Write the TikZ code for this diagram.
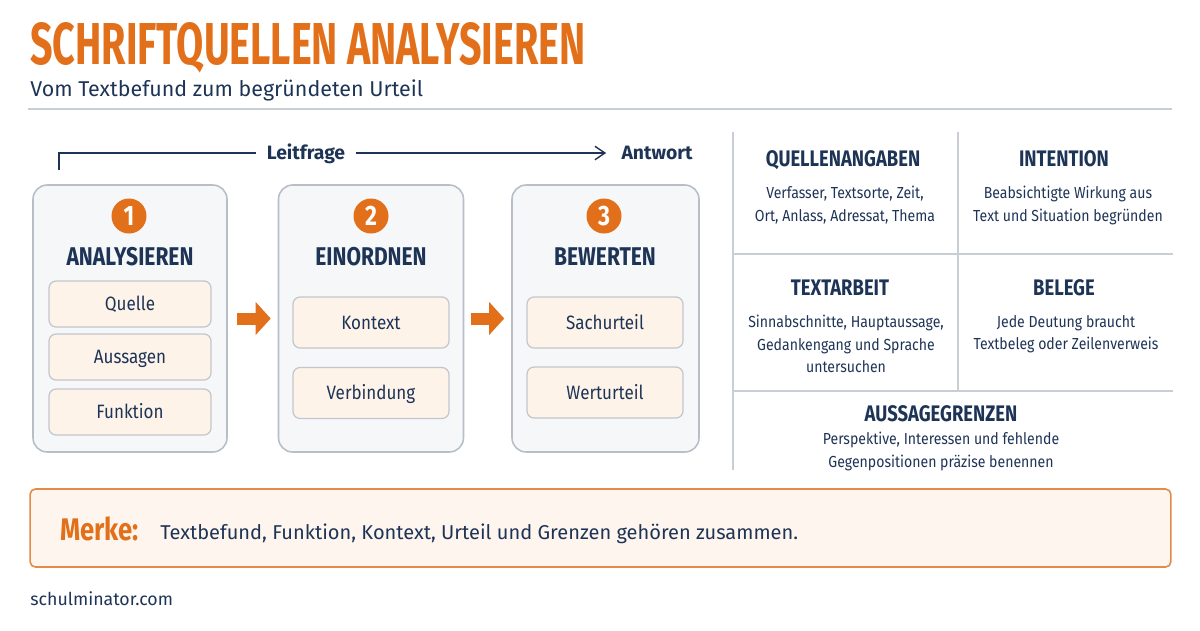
\documentclass[tikz,border=0pt]{standalone}
\usepackage{fontspec}
\setmainfont{Fira Sans}
\newfontfamily\condfont{Fira Sans}[FakeStretch=0.82]
\newfontfamily\narrowfont{Fira Sans}[FakeStretch=0.88]
\usepackage{graphicx}
\usepackage{tikz}
\usetikzlibrary{arrows.meta,positioning}
\definecolor{accent}{HTML}{E2701A}
\definecolor{navy}{HTML}{1E3456}
\definecolor{stagegray}{HTML}{B7BEC8}
\definecolor{stagefill}{HTML}{F6F7F9}
\definecolor{itemgray}{HTML}{C2C6CD}
\definecolor{peach}{HTML}{FDF3E9}
\definecolor{linegray}{HTML}{C9CED5}
\definecolor{notefill}{HTML}{FEF6EE}
\definecolor{noteline}{HTML}{E38B47}

\begin{document}
\begin{tikzpicture}[x=0.02cm, y=-0.02cm,
  every node/.style={text=navy, inner sep=0pt},
  stage/.style={draw=stagegray, fill=stagefill, line width=0.9pt, rounded corners=8pt, minimum height=5.34cm},
  item/.style={draw=itemgray, fill=peach, line width=0.7pt, rounded corners=4pt,
    font=\narrowfont\fontsize{11}{13}\selectfont, text height=7.6pt, text depth=0pt},
  num/.style={circle, fill=accent, text=white, minimum size=0.7cm,
    font=\condfont\bfseries\fontsize{16}{16}\selectfont},
  stagehead/.style={anchor=base, font=\condfont\bfseries\fontsize{14.6}{15}\selectfont},
  cellhead/.style={anchor=base, font=\condfont\bfseries\fontsize{12.8}{13}\selectfont},
  celltext/.style={anchor=north, align=center, font=\narrowfont\fontsize{9.1}{12.75}\selectfont},
  flowlabel/.style={font=\bfseries\fontsize{11}{12}\selectfont, text height=7.6pt, text depth=0pt},
  flow/.style={accent, line width=0.24cm, -{Triangle[length=0.3cm, width=0.64cm]}},
  cellline/.style={draw=linegray, line width=0.8pt}
]
\useasboundingbox (0,0) rectangle (1200,630);

% title
\node[anchor=base west, text=accent, text depth=0pt] (title) at (30,64)
  {\resizebox{11.1cm}{0.84cm}{\bfseries SCHRIFTQUELLEN ANALYSIEREN}};
\node[anchor=base west, font=\fontsize{12.2}{14}\selectfont] (subtitle) at (30,96)
  {Vom Textbefund zum begründeten Urteil};
\draw[draw=linegray, line width=1.1pt] (28,109) -- (1172,109);

% Leitfrage -> Antwort
\coordinate (lfstart) at (59,170);
\node[flowlabel, inner xsep=0.22cm] (leitfrage) at (306,153) {Leitfrage};
\node[flowlabel, inner xsep=0.3cm] (antwort) at (657,153) {Antwort};
\draw[navy, line width=0.8pt] (lfstart) |- (leitfrage.west);
\draw[navy, line width=0.8pt, -{Straight Barb[length=0.2cm, width=0.27cm]}] (leitfrage.east) -- (antwort.west);

% three steps
\node[stage, minimum width=3.88cm] (analysieren) at (130,318.5) {};
\node[stage, minimum width=3.7cm] (einordnen) at (371,318.5) {};
\node[stage, minimum width=3.74cm] (bewerten) at (605.5,318.5) {};

\node[num] (n1) at (129,216) {1};
\node[num] (n2) at (371,216) {2};
\node[num] (n3) at (604,216) {3};
\node[stagehead] (h1) at (130,265) {ANALYSIEREN};
\node[stagehead] (h2) at (371,265) {EINORDNEN};
\node[stagehead] (h3) at (605,265) {BEWERTEN};

\node[item, minimum width=3.24cm, minimum height=0.92cm] (quelle) at (130,304) {Quelle};
\node[item, minimum width=3.24cm, minimum height=0.92cm] (aussagen) at (130,357) {Aussagen};
\node[item, minimum width=3.24cm, minimum height=0.92cm] (funktion) at (130,412) {Funktion};
\node[item, minimum width=3.12cm, minimum height=1.02cm] (kontext) at (371,322.5) {Kontext};
\node[item, minimum width=3.12cm, minimum height=1.02cm] (verbindung) at (371,393) {Verbindung};
\node[item, minimum width=3.12cm, minimum height=1.02cm] (sachurteil) at (605,322.5) {Sachurteil};
\node[item, minimum width=3.12cm, minimum height=1.02cm] (werturteil) at (605,392.5) {Werturteil};

\draw[flow, shorten <=0.18cm, shorten >=0.14cm] (analysieren.east) -- (einordnen.west);
\draw[flow, shorten <=0.14cm, shorten >=0.14cm] (einordnen.east) -- (bewerten.west);

% criteria grid
\draw[cellline] (733,132) -- (733,470);
\draw[cellline] (958,132) -- (958,391);
\draw[cellline] (733,254) -- (1173,254);
\draw[cellline] (733,391) -- (1173,391);

\node[cellhead] (quellenangaben) at (843,166) {QUELLENANGABEN};
\node[celltext] (quellentext) at (845,186) {Verfasser, Textsorte, Zeit,\\Ort, Anlass, Adressat, Thema};
\node[cellhead] (intention) at (1064,166) {INTENTION};
\node[celltext] (intentiontext) at (1068,186) {Beabsichtigte Wirkung aus\\Text und Situation begründen};
\node[cellhead] (textarbeit) at (840,295) {TEXTARBEIT};
\node[celltext] (textarbeittext) at (846,315) {Sinnabschnitte, Hauptaussage,\\Gedankengang und Sprache\\untersuchen};
\node[cellhead] (belege) at (1064,295) {BELEGE};
\node[celltext] (belegetext) at (1066,315) {Jede Deutung braucht\\Textbeleg oder Zeilenverweis};
\node[cellhead] (grenzen) at (941,421) {AUSSAGEGRENZEN};
\node[celltext] (grenzentext) at (941,432) {Perspektive, Interessen und fehlende\\Gegenpositionen präzise benennen};

% note
\node[draw=noteline, fill=notefill, line width=0.9pt, rounded corners=3pt,
  minimum width=22.82cm, minimum height=1.56cm] (merkebox) at (600.5,528) {};
\node[anchor=base west, text=accent, font=\condfont\bfseries\fontsize{17.8}{19}\selectfont] (merke) at (60,540) {Merke:};
\node[anchor=base west, font=\fontsize{11.4}{13}\selectfont] (merketext) at (160,539)
  {Textbefund, Funktion, Kontext, Urteil und Grenzen gehören zusammen.};

\node[anchor=base west, font=\fontsize{10.1}{11}\selectfont] (site) at (30,605) {schulminator.com};
\end{tikzpicture}
\end{document}
